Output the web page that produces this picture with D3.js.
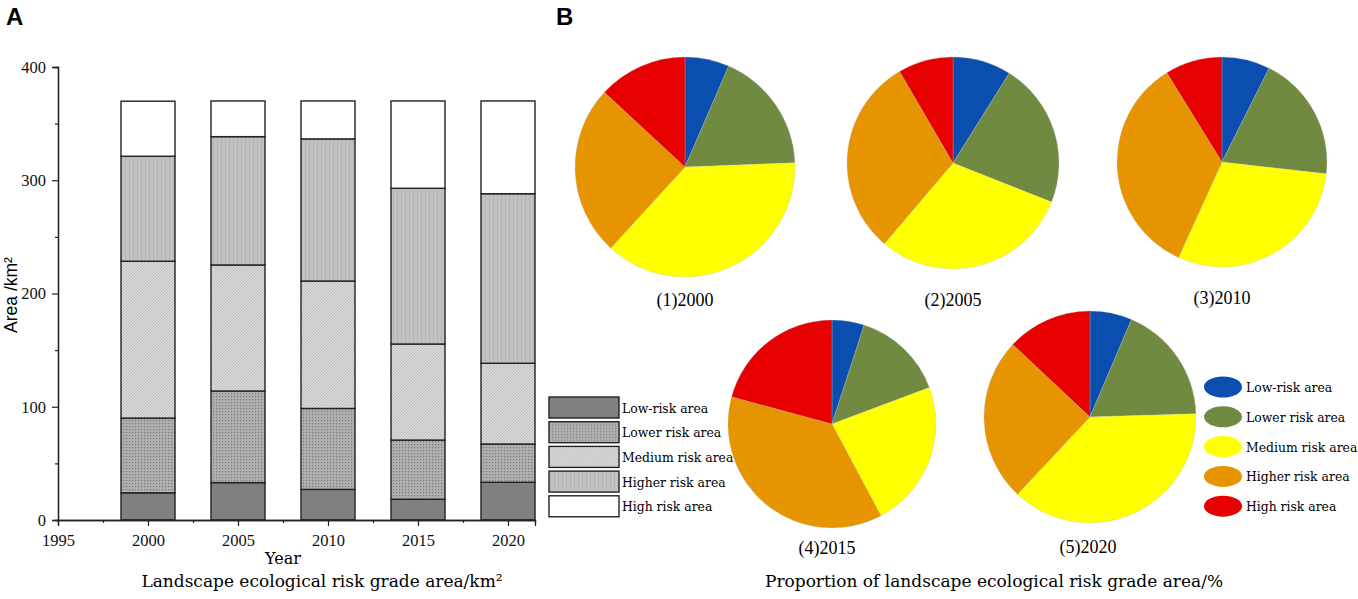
<!DOCTYPE html>
<html lang="en">
<head>
  <meta charset="UTF-8">
  <title>Landscape ecological risk grade area</title>
  <script src="https://d3js.org/d3.v7.min.js"></script>
  <style>
    body { margin: 0; background: #fff; }
  </style>
</head>
<body>
  <div id="chart"></div>
  <script>
    // bar chart data (km2)
    const years = [2000, 2005, 2010, 2015, 2020];
    const grades = ["Low-risk area", "Lower risk area", "Medium risk area", "Higher risk area", "High risk area"];
    const lowRisk = [24, 33, 27, 18.3, 33.3];
    const lowerRisk = [66, 80.9, 71.5, 52.3, 33.8];
    const mediumRisk = [138.5, 111.3, 112.5, 84.8, 71.3];
    const higherRisk = [92.7, 113.3, 125.5, 137.5, 149.7];
    const highRisk = [48.6, 31.5, 33.5, 77.1, 81.9];
    const yTicks = [0, 100, 200, 300, 400];
    const yMinor = [50, 150, 250, 350];
    const xTicks = [1995, 2000, 2005, 2010, 2015, 2020];
    const xMinor = [1997.5, 2002.5, 2007.5, 2012.5, 2017.5];

    // pie chart data (%)
    const pieLabels = ["(1)2000", "(2)2005", "(3)2010", "(4)2015", "(5)2020"];
    const pie2000 = [6.5, 17.9, 37.4, 25.1, 13.1];
    const pie2005 = [8.9, 22.1, 30.2, 30.4, 8.4];
    const pie2010 = [7.4, 19.4, 30.0, 34.4, 8.8];
    const pie2015 = [5.0, 14.3, 22.9, 37.0, 20.8];
    const pie2020 = [6.4, 18.1, 37.5, 25.0, 13.0];
    const pieLegend = ["Low-risk area", "Lower risk area", "Medium risk area", "Higher risk area", "High risk area"];

    const serif = "'Liberation Serif', 'Times New Roman', serif";
    const wide = "'DejaVu Serif', serif";
    const sans = "'Liberation Sans', Arial, sans-serif";
    const pieColors = ["#0a4fb0", "#718a42", "#ffff00", "#e69500", "#e60000"];

    const svg = d3.select("#chart").append("svg")
      .attr("width", 1358)
      .attr("height", 599);

    // hatch patterns for the bars
    const defs = svg.append("defs");
    const pLower = defs.append("pattern").attr("id", "pLower")
      .attr("width", 3).attr("height", 3).attr("patternUnits", "userSpaceOnUse");
    pLower.append("rect").attr("width", 3).attr("height", 3).attr("fill", "#b0b0b0");
    pLower.append("rect").attr("width", 1.2).attr("height", 1.2).attr("fill", "#7a7a7a");

    const pMedium = defs.append("pattern").attr("id", "pMedium")
      .attr("width", 3).attr("height", 3).attr("patternUnits", "userSpaceOnUse");
    pMedium.append("rect").attr("width", 3).attr("height", 3).attr("fill", "#dadada");
    pMedium.append("path").attr("d", "M0,3 L3,0").attr("stroke", "#b4b4b4").attr("stroke-width", 0.8);

    const pHigher = defs.append("pattern").attr("id", "pHigher")
      .attr("width", 4).attr("height", 4).attr("patternUnits", "userSpaceOnUse");
    pHigher.append("rect").attr("width", 4).attr("height", 4).attr("fill", "#c2c2c2");
    pHigher.append("rect").attr("x", 1).attr("width", 1).attr("height", 4).attr("fill", "#b4b4b4");

    const barFills = ["#808080", "url(#pLower)", "url(#pMedium)", "url(#pHigher)", "#ffffff"];

    // ---------- panel A ----------
    const x = d3.scaleLinear().domain([1995, 2021.5]).range([58, 535]);
    const y = d3.scaleLinear().domain([0, 400]).range([520, 67]);

    const table = years.map((yr, i) => ({
      year: yr,
      "Low-risk area": lowRisk[i],
      "Lower risk area": lowerRisk[i],
      "Medium risk area": mediumRisk[i],
      "Higher risk area": higherRisk[i],
      "High risk area": highRisk[i]
    }));
    const stacked = d3.stack().keys(grades)(table);
    const barW = x(2001.5) - x(1998.5);

    stacked.forEach((layer, k) => {
      svg.append("g").selectAll("rect")
        .data(layer)
        .enter()
        .append("rect")
        .attr("x", d => x(d.data.year) - barW / 2)
        .attr("y", d => y(d[1]))
        .attr("width", barW)
        .attr("height", d => y(d[0]) - y(d[1]))
        .attr("fill", barFills[k])
        .attr("stroke", "#222")
        .attr("stroke-width", 1.4);
    });

    // axes: minor ticks in their own groups so the major call does not remove them
    const yMinorG = svg.append("g").attr("transform", "translate(58,0)")
      .call(d3.axisLeft(y).tickValues(yMinor).tickSize(3).tickFormat(""));
    const yAxisG = svg.append("g").attr("transform", "translate(58,0)")
      .call(d3.axisLeft(y).tickValues(yTicks).tickSize(6).tickPadding(6));
    const xMinorG = svg.append("g").attr("transform", "translate(0,520)")
      .call(d3.axisBottom(x).tickValues(xMinor).tickSize(3).tickFormat(""));
    const xAxisG = svg.append("g").attr("transform", "translate(0,520)")
      .call(d3.axisBottom(x).tickValues(xTicks).tickSize(6).tickPadding(8).tickFormat(d3.format("d")));

    [yMinorG, yAxisG, xMinorG, xAxisG].forEach(g => {
      g.attr("font-family", serif).attr("font-size", 16.5);
      g.selectAll(".domain").attr("stroke", "#222").attr("stroke-width", 1.3);
      g.selectAll(".tick line").attr("stroke", "#222").attr("stroke-width", 1.2);
      g.selectAll(".tick text").attr("font-family", serif).attr("font-size", 16.5).attr("fill", "#111");
    });

    svg.append("text")
      .attr("transform", "translate(17,295) rotate(-90)")
      .attr("text-anchor", "middle")
      .attr("font-family", sans)
      .attr("font-size", 17.5)
      .text("Area /km²");

    svg.append("text")
      .attr("x", 283).attr("y", 564)
      .attr("text-anchor", "middle")
      .attr("font-family", wide).attr("font-size", 16)
      .text("Year");

    svg.append("text")
      .attr("x", 322).attr("y", 587)
      .attr("text-anchor", "middle")
      .attr("font-family", wide).attr("font-size", 17)
      .text("Landscape ecological risk grade area/km²");

    // bar legend
    const barLegend = svg.append("g").selectAll("g")
      .data(grades)
      .enter()
      .append("g")
      .attr("transform", (d, i) => `translate(549,${397 + i * 24.7})`);
    barLegend.append("rect")
      .attr("width", 70).attr("height", 21)
      .attr("fill", (d, i) => barFills[i])
      .attr("stroke", "#222").attr("stroke-width", 1.4);
    barLegend.append("text")
      .attr("x", 73).attr("y", 15.5)
      .attr("font-family", wide).attr("font-size", 12.4)
      .text(d => d);

    svg.append("text")
      .attr("x", 6).attr("y", 25)
      .attr("font-family", sans)
      .attr("font-weight", "bold").attr("font-size", 24)
      .text("A");

    // ---------- panel B ----------
    svg.append("text")
      .attr("x", 556).attr("y", 25)
      .attr("font-family", sans)
      .attr("font-weight", "bold").attr("font-size", 24)
      .text("B");

    const pies = [
      { label: pieLabels[0], values: pie2000, cx: 685, cy: 167, r: 110, lx: 685, ly: 306 },
      { label: pieLabels[1], values: pie2005, cx: 953, cy: 163, r: 106, lx: 953, ly: 306 },
      { label: pieLabels[2], values: pie2010, cx: 1222, cy: 162, r: 105, lx: 1222, ly: 304 },
      { label: pieLabels[3], values: pie2015, cx: 832, cy: 424, r: 104, lx: 827, ly: 554 },
      { label: pieLabels[4], values: pie2020, cx: 1090, cy: 417, r: 106, lx: 1088, ly: 553 }
    ];

    const pieGen = d3.pie().sort(null);
    pies.forEach(p => {
      const arc = d3.arc().innerRadius(0).outerRadius(p.r);
      const g = svg.append("g").attr("transform", `translate(${p.cx},${p.cy})`);
      g.selectAll("path")
        .data(pieGen(p.values))
        .enter()
        .append("path")
        .attr("d", arc)
        .attr("fill", (d, i) => pieColors[i])
        .attr("stroke", "#bbb")
        .attr("stroke-width", 0.3);
      svg.append("text")
        .attr("x", p.lx).attr("y", p.ly)
        .attr("text-anchor", "middle")
        .attr("font-family", serif).attr("font-size", 18)
        .text(p.label);
    });

    // pie legend
    const pl = svg.append("g").selectAll("g")
      .data(pieLegend)
      .enter()
      .append("g")
      .attr("transform", (d, i) => `translate(1223,${387 + i * 29.8})`);
    pl.append("ellipse")
      .attr("rx", 19).attr("ry", 10.5)
      .attr("fill", (d, i) => pieColors[i]);
    pl.append("text")
      .attr("x", 23).attr("y", 5)
      .attr("font-family", wide).attr("font-size", 12.4)
      .text(d => d);

    svg.append("text")
      .attr("x", 994).attr("y", 587)
      .attr("text-anchor", "middle")
      .attr("font-family", wide).attr("font-size", 17)
      .text("Proportion of landscape ecological risk grade area/%");
  </script>
</body>
</html>
